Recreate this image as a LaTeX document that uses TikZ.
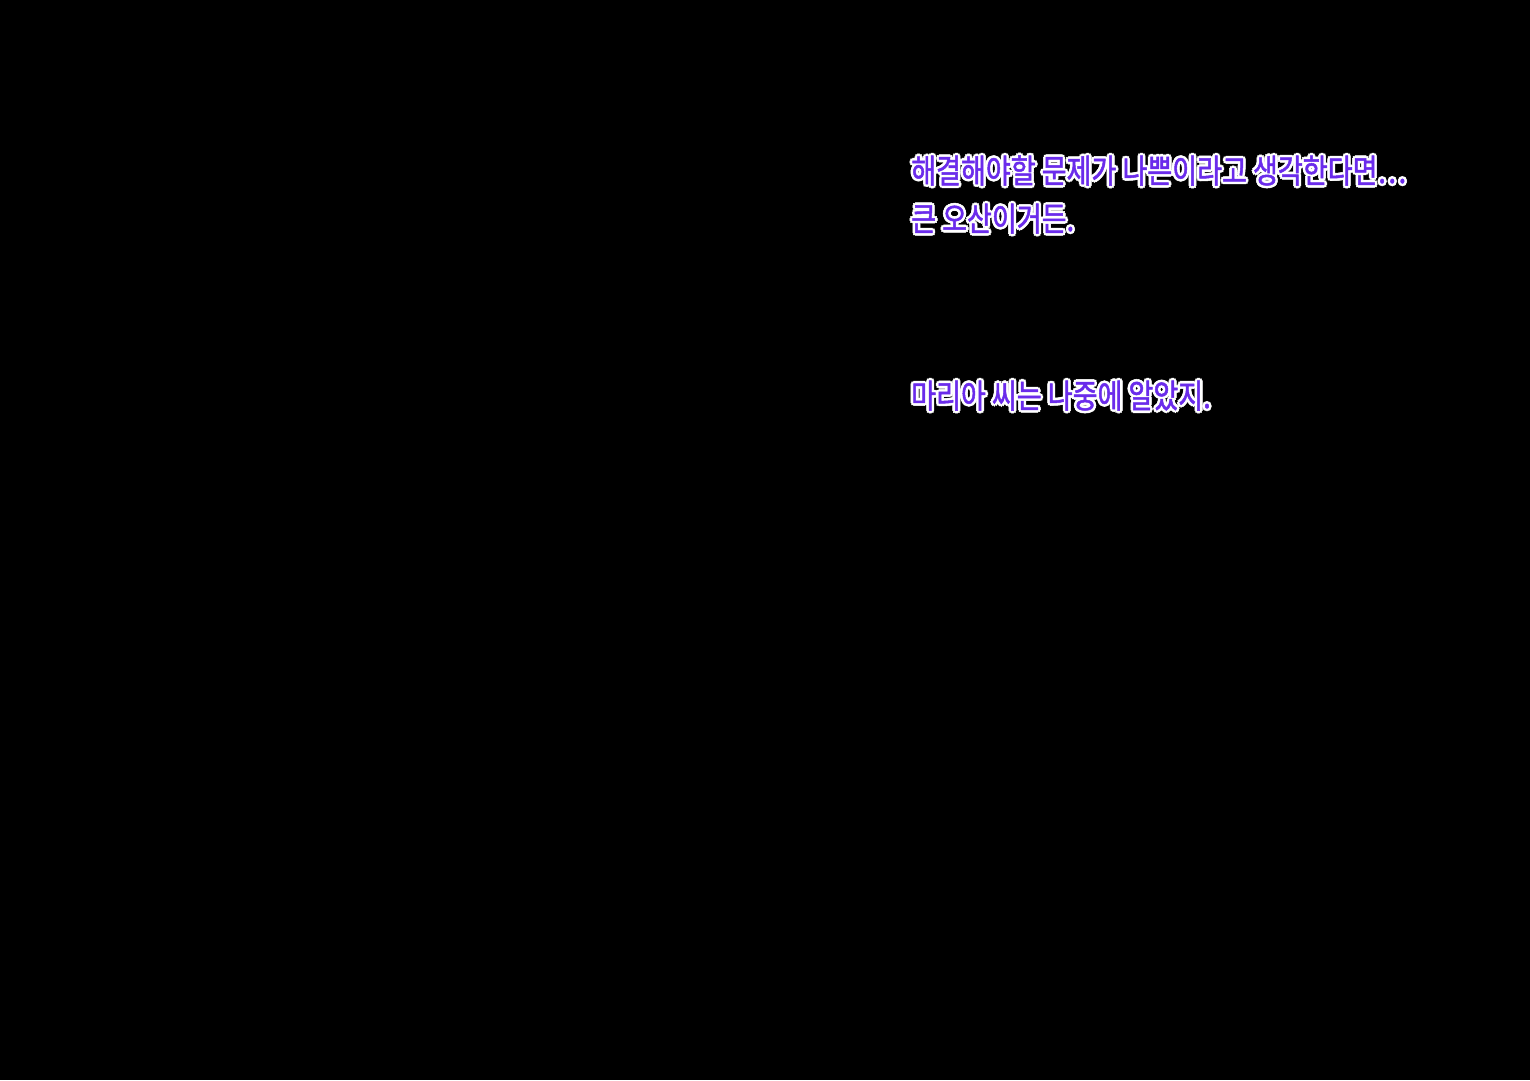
\documentclass[tikz,border=0pt]{standalone}
\usepackage{fontspec}
\newfontfamily\kr[FakeStretch=0.82,FakeBold=1.5]{Noto Sans CJK KR}
\definecolor{txtpurple}{HTML}{6A2BEB}
\newcommand\oc[3]{\makebox[0pt][l]{\hspace*{#1}\raisebox{#2}{#3}}}
\newcommand\outl[1]{{\color{white}%
  \oc{2.6pt}{0pt}{#1}\oc{-2.6pt}{0pt}{#1}\oc{0pt}{2.6pt}{#1}\oc{0pt}{-2.6pt}{#1}%
  \oc{1.9pt}{1.9pt}{#1}\oc{-1.9pt}{1.9pt}{#1}\oc{1.9pt}{-1.9pt}{#1}\oc{-1.9pt}{-1.9pt}{#1}}%
  {\color{txtpurple}#1}}
\tikzset{ktext/.style={anchor=base west,inner sep=0pt,font=\kr\fontsize{33}{40}\selectfont}}
\begin{document}
\begin{tikzpicture}[x=1pt,y=1pt]
\fill[black] (0,0) rectangle (1530,1080);
\useasboundingbox (0,0) rectangle (1530,1080);
\node[ktext] (l1) at (911,1080-183) {\outl{해결해야할 문제가 나쁜이라고 생각한다면…}};
\node[ktext] (l2) at (911,1080-231) {\outl{큰 오산이거든.}};
\node[ktext] (l3) at (911,1080-408) {\outl{마리아 씨는 나중에 알았지.}};
\end{tikzpicture}
\end{document}
